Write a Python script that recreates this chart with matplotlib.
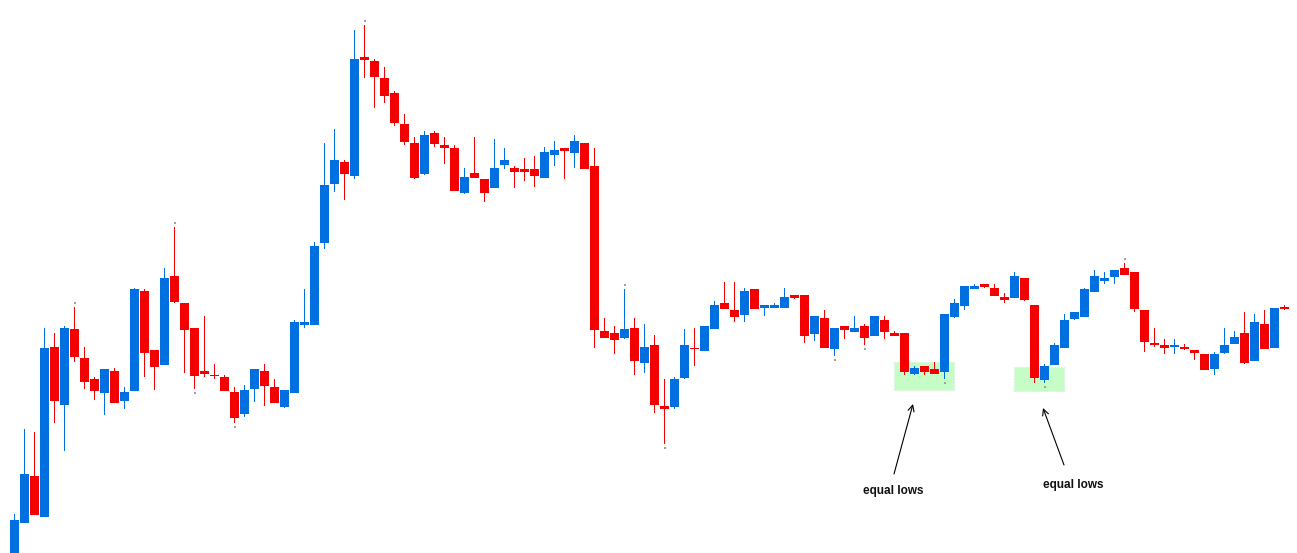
import matplotlib
matplotlib.use("Agg")
import matplotlib.pyplot as plt
from matplotlib.patches import Rectangle

# OHLC values (arbitrary price units)
opens = [
    -2, 30.3, 77, 36.3, 206, 148.3, 224, 195, 174, 160.3,
    182, 152.3, 162.3, 262, 203, 188.3, 277, 250, 225, 182,
    178.5, 176, 161, 139.3, 164.3, 182, 166, 146.3, 160.3, 228.3,
    228.3, 310.3, 369.3, 391, 377.3, 496, 492, 475, 460, 429,
    410, 379.3, 420, 408, 405, 360.3, 380, 374, 365.3, 388.3,
    385, 384, 384, 375.3, 398.3, 405, 400.3, 410, 387, 222,
    220, 215.3, 225, 190.3, 208, 147.3, 146.3, 175.3, 205, 202.3,
    224.3, 250.3, 243.3, 238.3, 264.3, 245.3, 245.3, 245.3, 258.3, 258.3,
    219.3, 235.3, 204.3, 227.3, 221.3, 227.3, 217.3, 233.3, 220.3, 220.3,
    179.3, 187.3, 184.3, 181.3, 236.3, 247.3, 264.3, 269.3, 265.3, 256.3,
    255.3, 275.3, 248.3, 173.3, 188.3, 205.3, 234.3, 236.3, 261.3, 272.3,
    276.3, 285.3, 281.3, 243.3, 210.3, 208.3, 206.3, 206.3, 203.3, 199.3,
    184.3, 200.3, 209.3, 220.3, 192.3, 229.3, 205.3, 246.3,
]
closes = [
    33, 79, 38.3, 205, 152.3, 225, 196.3, 171.3, 162.3, 184,
    150.3, 161, 264, 200.3, 186.3, 275, 251.3, 223.3, 177.3, 179.3,
    177.5, 162, 135.3, 163, 184, 167.3, 150.3, 163, 231, 231,
    307, 368, 393, 379.3, 494, 493.3, 476.3, 457.3, 430.3, 411.3,
    375.3, 418, 409.3, 405.3, 362.3, 376, 375.3, 360.3, 385, 393,
    381.3, 381.3, 377.3, 401, 403, 402.3, 412, 384.3, 223.3, 215.3,
    213.3, 224, 192.3, 206, 148.3, 144.3, 174.3, 208, 204, 227.3,
    248.3, 244.3, 236.3, 262.3, 244.3, 248.3, 248.3, 256.3, 255.3, 217.3,
    237.3, 205.3, 225.3, 223.3, 225.3, 215.3, 237.3, 221.3, 217.3, 181.3,
    185.3, 181.3, 179.3, 239.3, 250.3, 267.3, 267.3, 266.3, 257.3, 253.3,
    277.3, 253.3, 175.3, 187.3, 208.3, 233.3, 241.3, 264.3, 277.3, 275.3,
    283.3, 278.3, 244.3, 211.3, 208.3, 205.3, 208.3, 204.3, 200.3, 183.3,
    199.3, 208.3, 216.3, 190.3, 231.3, 204.3, 245.3, 244.3,
]
highs = [
    39, 124, 121, 225, 220, 227, 246, 206, 176, 184,
    185, 166.3, 265, 264, 203, 285, 326, 250, 225, 237,
    189, 178, 166, 168, 184, 189, 174, 163, 233, 264,
    311, 410, 424, 393, 523, 528, 494, 486, 462, 439,
    416, 422, 422, 416, 408, 385, 416, 374, 414, 405,
    387, 395, 397, 406, 412, 405, 418, 410, 405, 235,
    227, 264, 235.3, 229.3, 218.3, 174.3, 176.3, 224.3, 225.3, 227.3,
    252.3, 271.3, 271.3, 265.3, 264.3, 248.3, 250.3, 265.3, 258.3, 258.3,
    237.3, 243.3, 225.3, 227.3, 237.3, 229.3, 237.3, 237.3, 222.3, 220.3,
    187.3, 187.3, 191.3, 239.3, 254.3, 267.3, 269.3, 269.3, 269.3, 260.3,
    281.3, 275.3, 248.3, 189.3, 210.3, 239.3, 241.3, 265.3, 283.3, 281.3,
    283.3, 290.3, 281.3, 243.3, 225.3, 214.3, 214.3, 209.3, 203.3, 199.3,
    201.3, 225.3, 222.3, 241.3, 239.3, 243.3, 245.3, 248.3,
]
lows = [
    -5, 30, 38, 36, 130.3, 102.3, 191.3, 164.3, 153.3, 138.3,
    150, 144.3, 162, 176.3, 163.3, 188, 250.3, 180.3, 164.3, 176,
    174, 162, 130.3, 136.3, 151.3, 147.3, 150, 145.3, 160, 225.3,
    228, 304.3, 361.3, 353.3, 374.3, 475.3, 445.3, 450.3, 427.3, 408.3,
    374.3, 378.3, 406.3, 389.3, 362, 359.3, 375, 351.3, 365, 384.3,
    365.3, 372.3, 366.3, 375, 387.3, 374.3, 385.3, 384, 205.3, 215,
    199.3, 214.3, 178.3, 180.3, 140.3, 109.3, 144.3, 174.3, 187.3, 202.3,
    224.3, 244.3, 231.3, 231.3, 244.3, 237.3, 245.3, 245.3, 254.3, 210.3,
    212.3, 205.3, 197.3, 214.3, 221.3, 208.3, 217.3, 214.3, 217.3, 178.3,
    178.3, 178.3, 179, 174.3, 235.3, 243.3, 264.3, 265.3, 257.3, 250.3,
    255.3, 252.3, 170.3, 170.3, 188.3, 205.3, 233.3, 236.3, 261.3, 269.3,
    269.3, 278.3, 241.3, 201.3, 206.3, 199.3, 199.3, 203.3, 193.3, 183.3,
    178.3, 199.3, 209.3, 189.3, 192.3, 204.3, 205.3, 243.3,
]

# fractal dots (candle index, price)
dot_idx = [6, 16, 18, 22, 35, 61, 65, 82, 85, 93, 103, 111]
dot_price = [250.3, 330.3, 160.3, 126.3, 532.3, 268.3, 105.3, 193.3, 204.3, 170.3, 166.3, 294.3]

# "equal lows" zones: (from candle, to candle, pad under lowest low, box height)
zones = [(88, 94, 11.3, 28), (100, 105, 8.3, 24)]

BULL = "#0070e0"
BEAR = "#f50000"

fig = plt.figure(figsize=(12.97, 5.53), dpi=100)
ax = fig.add_axes([0, 0, 1, 1])
ax.axis("off")
ax.set_xlim(-1.45, 128.25)
ax.set_ylim(0, 553)

x = list(range(len(opens)))
colors = [BULL if c > o else BEAR for o, c in zip(opens, closes)]
bottoms = [min(o, c) for o, c in zip(opens, closes)]
heights = [max(abs(c - o), 1.0) for o, c in zip(opens, closes)]
spans = [h - l for h, l in zip(highs, lows)]

# zones behind the candles
for a, b, pad, h in zones:
    lo = min(lows[a:b]) - pad
    ax.add_patch(Rectangle((a - 0.05, lo), b - a, h, facecolor="#c6fdc6",
                           edgecolor="#d8ecd8", lw=0.8, linestyle=":", zorder=1))

# wicks as 1px bars, then bodies
ax.bar(x, spans, bottom=lows, width=0.1, color=colors, lw=0,
       antialiased=False, zorder=2)
ax.bar(x, heights, bottom=bottoms, width=0.9, color=colors, lw=0,
       antialiased=False, zorder=3)
ax.plot(dot_idx, dot_price, "s", color="#a0a0a0", ms=2, mew=0, zorder=3)

# annotations
arrow = dict(arrowstyle="->", color="black", lw=0.8, shrinkA=0, shrinkB=0,
             mutation_scale=11)
ax.annotate("", xy=(89.85, 149), xytext=(87.95, 79), arrowprops=arrow)
ax.annotate("", xy=(102.85, 145), xytext=(104.95, 88), arrowprops=arrow)
ax.text(87.85, 62, "equal lows", ha="center", va="center", fontsize=8.5,
        fontweight="bold", family="Liberation Sans", color="#111111")
ax.text(105.85, 68, "equal lows", ha="center", va="center", fontsize=8.5,
        fontweight="bold", family="Liberation Sans", color="#111111")

fig.savefig("out.png", dpi=100)
plt.close(fig)
